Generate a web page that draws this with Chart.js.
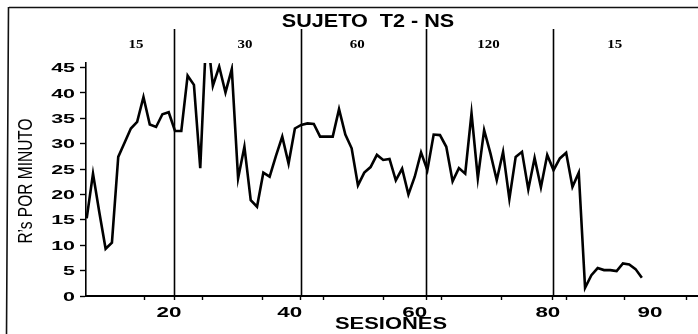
<!DOCTYPE html>
<html>
<head>
<meta charset="utf-8">
<script src="https://cdn.jsdelivr.net/npm/chart.js@4"></script>
<style>
  html, body { margin: 0; padding: 0; background: #fff; }
  canvas { display: block; }
</style>
</head>
<body>
<canvas id="c" width="698" height="334"></canvas>
<script>
// ---- data ----
const sessions = [1,2,3,4,5,6,7,8,9,10,11,12,13,14,15,16,17,18,19,20,21,22,23,24,25,26,27,28,29,30,
  31,32,33,34,35,36,37,38,39,40,41,42,43,44,45,46,47,48,49,50,51,52,53,54,55,56,57,58,59,60,
  61,62,63,64,65,66,67,68,69,70,71,72,73,74,75,76,77,78,79,80,81,82,83,84,85,86,87,88,89];
const responsesPerMinute = [
  15.3, 24.1, 16.5, 9.3, 10.5, 27.4, 30.2, 33.0, 34.3, 39.2, 33.8, 33.3, 35.8, 36.2, 32.5,
  32.5, 43.4, 41.6, 25.2, 53.0, 41.4, 45.2, 40.1, 44.7, 23.2, 29.4, 18.9, 17.6, 24.3, 23.5, 27.6, 31.4, 26.1, 33.0, 33.7,
  34.0, 33.9, 31.4, 31.4, 31.4, 36.8, 31.8, 29.1, 21.8, 24.3, 25.4, 27.8, 26.8, 27.0, 22.8, 25.1, 20.0, 23.5, 28.3, 24.8,
  31.8, 31.7, 29.4, 22.6, 25.2, 24.1, 36.0, 23.2, 32.7, 28.1, 22.8, 28.4, 19.1, 27.4, 28.4, 21.0, 27.2, 21.4, 27.8, 24.8,
  27.1, 28.2, 21.5, 24.3, 1.6, 4.1, 5.5, 5.1, 5.1, 4.9, 6.4, 6.2, 5.3, 3.6
];
const phaseNames = ["15", "30", "60", "120", "15"];
const phaseLabelAt = [8.8, 26.1, 43.9, 64.7, 84.7];       // session where each phase name is centred
const phaseChanges = [14.85, 34.95, 54.8, 74.9];          // sessions of the phase-change lines
const xTickLabels = ["20", "40", "60", "80", "90"];
const xTickLabelAt = [14.04, 33.2, 53.0, 74.1, 90.3];
const xTickMarks = [10.1, 14.85, 19.3, 28.8, 34.95, 38.6, 48.1, 54.8, 57.3, 66.8, 74.9, 77.0, 86.2, 96.0];
const yTickValues = [0, 5, 10, 15, 20, 25, 30, 35, 40, 45];
const titleText = "SUJETO  T2 - NS";
const xTitle = "SESIONES";
const yTitle = "R\u2019s POR MINUTO";

// ---- drawing helpers ----
function stretchText(ctx, text, x, baseline, font, sx, align) {
  ctx.save();
  ctx.font = font;
  ctx.textAlign = align || 'center';
  ctx.textBaseline = 'alphabetic';
  ctx.fillStyle = '#000';
  ctx.translate(x, baseline);
  ctx.scale(sx, 1);
  ctx.fillText(text, 0, 0);
  ctx.restore();
}

const decorPlugin = {
  id: 'decor',
  beforeDatasetsDraw(chart) {
    const ctx = chart.ctx, xs = chart.scales.x, area = chart.chartArea;
    ctx.save();
    ctx.strokeStyle = '#000';
    ctx.lineWidth = 1.6;
    phaseChanges.forEach(v => {
      const px = Math.round(xs.getPixelForValue(v)) + 0.5;
      ctx.beginPath();
      ctx.moveTo(px, 29);
      ctx.lineTo(px, area.bottom);
      ctx.stroke();
    });
    ctx.restore();
  },
  afterDraw(chart) {
    const ctx = chart.ctx, xs = chart.scales.x, ys = chart.scales.y;
    // frame (top and left edges of the scanned box)
    ctx.save();
    ctx.strokeStyle = '#111';
    ctx.lineWidth = 1.6;
    ctx.beginPath();
    ctx.moveTo(9, 7.5); ctx.lineTo(698, 7.5);
    ctx.moveTo(8.5, 7); ctx.lineTo(6.5, 334);
    ctx.stroke();
    ctx.restore();

    // title
    stretchText(ctx, titleText, 368, 27, 'bold 18px "Liberation Sans", Arial, sans-serif', 1.2);
    // phase names
    phaseNames.forEach((t, i) => {
      stretchText(ctx, t, xs.getPixelForValue(phaseLabelAt[i]), 48,
        'bold 13px "Liberation Serif", "Times New Roman", serif', 1.15);
    });
    // y tick labels
    yTickValues.forEach(v => {
      stretchText(ctx, String(v), 75, ys.getPixelForValue(v) + 4.6,
        'bold 13px "Liberation Sans", Arial, sans-serif', 1.65, 'right');
    });
    // x tick labels
    xTickLabels.forEach((t, i) => {
      stretchText(ctx, t, xs.getPixelForValue(xTickLabelAt[i]), 317,
        'bold 14px "Liberation Sans", Arial, sans-serif', 1.6);
    });
    // x title
    stretchText(ctx, xTitle, 391, 329, 'bold 16px "Liberation Sans", Arial, sans-serif', 1.37);
    // y title (rotated, thickened across)
    ctx.save();
    ctx.font = '15.5px "Liberation Sans", Arial, sans-serif';
    ctx.fillStyle = '#000';
    ctx.textAlign = 'center';
    ctx.textBaseline = 'alphabetic';
    ctx.translate(25, 181);
    ctx.rotate(-Math.PI / 2);
    ctx.scale(1, 1.36);
    ctx.fillText(yTitle, 0, 5.5);
    ctx.restore();
  }
};

new Chart(document.getElementById('c'), {
  type: 'line',
  data: {
    datasets: [{
      data: sessions.map((s, i) => ({ x: s, y: responsesPerMinute[i] })),
      borderColor: '#000',
      borderWidth: 2.6,
      pointRadius: 0,
      tension: 0,
      fill: false
    }]
  },
  options: {
    responsive: false,
    devicePixelRatio: 1,
    animation: false,
    layout: { padding: { top: 63, left: 0, right: 0, bottom: 0 } },
    plugins: { legend: { display: false }, tooltip: { enabled: false }, title: { display: false } },
    scales: {
      x: {
        type: 'linear',
        min: 0.89,
        max: 97.9,
        afterBuildTicks: s => { s.ticks = xTickMarks.map(v => ({ value: v })); },
        afterFit: s => { s.height = 38; },
        ticks: { display: false },
        grid: { drawOnChartArea: false, drawTicks: true, tickLength: 4, color: '#000', tickWidth: 1.4 },
        border: { display: true, color: '#000', width: 2 }
      },
      y: {
        min: 0,
        max: 45.9,
        afterBuildTicks: s => { s.ticks = yTickValues.map(v => ({ value: v })); },
        afterFit: s => { s.width = 86; },
        ticks: { display: false },
        grid: { drawOnChartArea: false, drawTicks: true, tickLength: 6, color: '#000', tickWidth: 1.4 },
        border: { display: true, color: '#000', width: 1.6 }
      }
    }
  },
  plugins: [decorPlugin]
});
</script>
</body>
</html>
